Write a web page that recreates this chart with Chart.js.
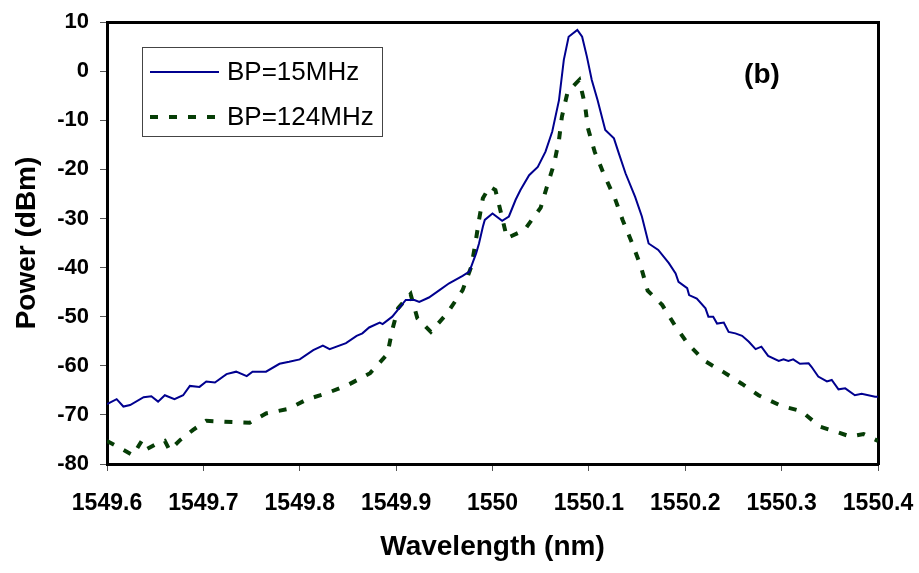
<!DOCTYPE html>
<html>
<head>
<meta charset="utf-8">
<script src="https://cdn.jsdelivr.net/npm/chart.js@4"></script>
<style>
  html, body { margin: 0; padding: 0; background: #fff; }
  #wrap { width: 919px; height: 573px; position: relative; }
</style>
</head>
<body>
<div id="wrap"><canvas id="chart"></canvas></div>
<script>
const FONT = "'Liberation Sans', Arial, sans-serif";

// BP = 15 MHz trace (solid blue)
const wavelength15 = [
    1549.600, 1549.610, 1549.617, 1549.624, 1549.638, 1549.646, 1549.653, 1549.660,
    1549.670, 1549.679, 1549.686, 1549.696, 1549.703, 1549.712, 1549.724, 1549.734,
    1549.745, 1549.751, 1549.765, 1549.779, 1549.789, 1549.800, 1549.814, 1549.824,
    1549.831, 1549.848, 1549.859, 1549.865, 1549.872, 1549.883, 1549.886, 1549.896,
    1549.903, 1549.910, 1549.919, 1549.924, 1549.934, 1549.945, 1549.955, 1549.969,
    1549.976, 1549.983, 1549.986, 1549.990, 1549.992, 1550.000, 1550.010, 1550.017,
    1550.024, 1550.029, 1550.038, 1550.047, 1550.055, 1550.062, 1550.069, 1550.074,
    1550.079, 1550.088, 1550.093, 1550.098, 1550.103, 1550.109, 1550.117, 1550.126,
    1550.131, 1550.138, 1550.148, 1550.155, 1550.162, 1550.172, 1550.183, 1550.190,
    1550.193, 1550.202, 1550.204, 1550.212, 1550.221, 1550.224, 1550.229, 1550.233,
    1550.240, 1550.245, 1550.252, 1550.259, 1550.266, 1550.273, 1550.279, 1550.286,
    1550.297, 1550.302, 1550.307, 1550.312, 1550.319, 1550.328, 1550.331, 1550.338,
    1550.347, 1550.352, 1550.359, 1550.366, 1550.376, 1550.383, 1550.397, 1550.400,
];
const power15 = [
    -67.8, -66.8, -68.3, -68.0, -66.4, -66.2, -67.3, -66.0,
    -66.8, -66.0, -64.1, -64.3, -63.2, -63.4, -61.7, -61.2,
    -62.1, -61.2, -61.2, -59.6, -59.2, -58.7, -56.8, -55.9,
    -56.6, -55.4, -53.9, -53.4, -52.2, -51.2, -51.5, -50.0,
    -48.3, -46.6, -46.6, -47.0, -46.1, -44.6, -43.2, -41.7,
    -40.8, -37.1, -35.1, -31.7, -30.3, -29.0, -30.5, -29.6,
    -26.2, -24.2, -21.2, -19.5, -16.4, -12.3, -5.9, 2.3,
    7.0, 8.4, 7.0, 2.9, -1.8, -5.9, -12.0, -13.7,
    -16.7, -20.8, -25.6, -29.6, -35.1, -36.4, -39.1, -41.2,
    -42.9, -44.2, -45.6, -46.3, -48.3, -50.0, -50.0, -51.4,
    -51.2, -53.1, -53.4, -53.9, -55.1, -56.6, -56.1, -58.0,
    -59.0, -58.7, -59.0, -58.7, -59.6, -59.5, -60.2, -62.2,
    -63.2, -62.9, -64.8, -64.6, -66.0, -65.7, -66.3, -66.3,
];

// BP = 124 MHz trace (dashed green)
const wavelength124 = [
    1549.600, 1549.614, 1549.627, 1549.636, 1549.641, 1549.653, 1549.660, 1549.665,
    1549.676, 1549.689, 1549.703, 1549.722, 1549.748, 1549.765, 1549.788, 1549.808,
    1549.828, 1549.850, 1549.873, 1549.891, 1549.896, 1549.902, 1549.915, 1549.922,
    1549.936, 1549.953, 1549.969, 1549.978, 1549.982, 1549.986, 1549.990, 1549.997,
    1550.003, 1550.009, 1550.015, 1550.033, 1550.050, 1550.057, 1550.064, 1550.069,
    1550.072, 1550.078, 1550.090, 1550.096, 1550.099, 1550.106, 1550.116, 1550.127,
    1550.135, 1550.145, 1550.154, 1550.161, 1550.176, 1550.189, 1550.203, 1550.220,
    1550.239, 1550.259, 1550.276, 1550.300, 1550.320, 1550.340, 1550.356, 1550.371,
    1550.385, 1550.400,
];
const power124 = [
    -75.3, -76.8, -78.2, -75.3, -77.0, -75.7, -75.3, -77.2,
    -75.1, -73.1, -71.2, -71.4, -71.6, -69.7, -68.8, -66.8,
    -65.6, -63.9, -61.5, -57.6, -52.7, -48.3, -45.4, -50.3,
    -53.1, -49.3, -44.6, -39.8, -35.4, -30.3, -25.9, -23.5,
    -24.2, -29.0, -34.0, -32.4, -27.8, -23.2, -18.8, -14.0,
    -9.3, -4.2, -1.8, -6.9, -11.6, -16.4, -21.2, -25.9,
    -30.3, -35.1, -39.8, -44.7, -47.6, -51.7, -55.6, -59.0,
    -61.2, -63.7, -66.0, -68.2, -69.2, -72.4, -73.4, -74.4,
    -73.9, -75.3,
];

const X_MIN = 1549.6;
const X_MAX = 1550.4;
const Y_MIN = -80;
const Y_MAX = 10;

function toPoints(xs, ys) {
    return xs.map((x, i) => ({ x, y: ys[i] }));
}

// legend box + "(b)" panel tag, placed relative to the chart area
const legendBox = {
    id: "legendBox",
    afterDraw(chart) {
        const { ctx, chartArea } = chart;
        const left = chartArea.left + 35;
        const top = chartArea.top + 25;
        ctx.save();
        ctx.strokeStyle = "#444";
        ctx.lineWidth = 1;
        ctx.strokeRect(left + 0.5, top + 0.5, 240, 89);
        chart.data.datasets.forEach((ds, i) => {
            const y = top + 25 + i * 45;
            ctx.beginPath();
            ctx.strokeStyle = ds.borderColor;
            ctx.lineWidth = ds.borderWidth;
            ctx.setLineDash(ds.borderDash || []);
            ctx.moveTo(left + 8, y);
            ctx.lineTo(left + 77, y);
            ctx.stroke();
            ctx.setLineDash([]);
            ctx.fillStyle = "#000";
            ctx.font = `26px ${FONT}`;
            ctx.textBaseline = "middle";
            ctx.textAlign = "left";
            ctx.fillText(ds.label, left + 85, y + 1);
        });
        ctx.font = `bold 28px ${FONT}`;
        ctx.textAlign = "center";
        ctx.textBaseline = "middle";
        ctx.fillText("(b)", chartArea.right - 116, chartArea.top + 53);
        ctx.restore();
    },
};

const tickFormat = (v) => String(Math.round(v * 10) / 10);

new Chart(document.getElementById("chart"), {
    type: "line",
    data: {
        datasets: [
            {
                label: "BP=15MHz",
                data: toPoints(wavelength15, power15),
                borderColor: "#00008f",
                backgroundColor: "#00008f",
                borderWidth: 2,
                pointRadius: 0,
                tension: 0,
                fill: false,
            },
            {
                label: "BP=124MHz",
                data: toPoints(wavelength124, power124),
                borderColor: "#063d06",
                backgroundColor: "#063d06",
                borderWidth: 4,
                borderDash: [8, 11],
                pointRadius: 0,
                tension: 0,
                fill: false,
            },
        ],
    },
    options: {
        responsive: true,
        maintainAspectRatio: false,
        animation: false,
        layout: { padding: 0 },
        plugins: {
            legend: { display: false },
            tooltip: { enabled: false },
        },
        scales: {
            x: {
                type: "linear",
                position: "bottom",
                min: X_MIN,
                max: X_MAX,
                afterFit(scale) {
                    scale.height = 109;
                    // let the last label hang into the right margin
                    scale.paddingRight = 0;
                    scale.paddingLeft = 0;
                },
                ticks: {
                    stepSize: 0.1,
                    padding: 19,
                    color: "#000",
                    font: { family: FONT, size: 23, weight: "bold" },
                    maxRotation: 0,
                    autoSkip: false,
                    callback: tickFormat,
                },
                grid: { drawOnChartArea: false, drawTicks: true, tickLength: 7, color: "#555" },
                border: { display: true, color: "#000", width: 3 },
                title: {
                    display: true,
                    text: "Wavelength (nm)",
                    color: "#000",
                    font: { family: FONT, size: 28, weight: "bold" },
                    padding: { top: 0, bottom: 9 },
                },
            },
            y: {
                type: "linear",
                position: "left",
                min: Y_MIN,
                max: Y_MAX,
                afterFit(scale) {
                    scale.width = 107;
                    scale.paddingTop = 0;
                    scale.paddingBottom = 0;
                },
                ticks: {
                    stepSize: 10,
                    padding: 11,
                    color: "#000",
                    font: { family: FONT, size: 22, weight: "bold" },
                },
                grid: { drawOnChartArea: false, drawTicks: true, tickLength: 7, color: "#555" },
                border: { display: true, color: "#000", width: 3 },
                title: {
                    display: true,
                    text: "Power (dBm)",
                    color: "#000",
                    font: { family: FONT, size: 28, weight: "bold" },
                    padding: { top: 10, bottom: 0 },
                },
            },
            x2: {
                type: "linear",
                position: "top",
                min: X_MIN,
                max: X_MAX,
                afterFit(scale) { scale.height = 22; },
                ticks: { display: false },
                grid: { display: false },
                border: { display: true, color: "#000", width: 3 },
            },
            y2: {
                type: "linear",
                position: "right",
                min: Y_MIN,
                max: Y_MAX,
                afterFit(scale) { scale.width = 41; },
                ticks: { display: false },
                grid: { display: false },
                border: { display: true, color: "#000", width: 3 },
            },
        },
    },
    plugins: [legendBox],
});
</script>
</body>
</html>
